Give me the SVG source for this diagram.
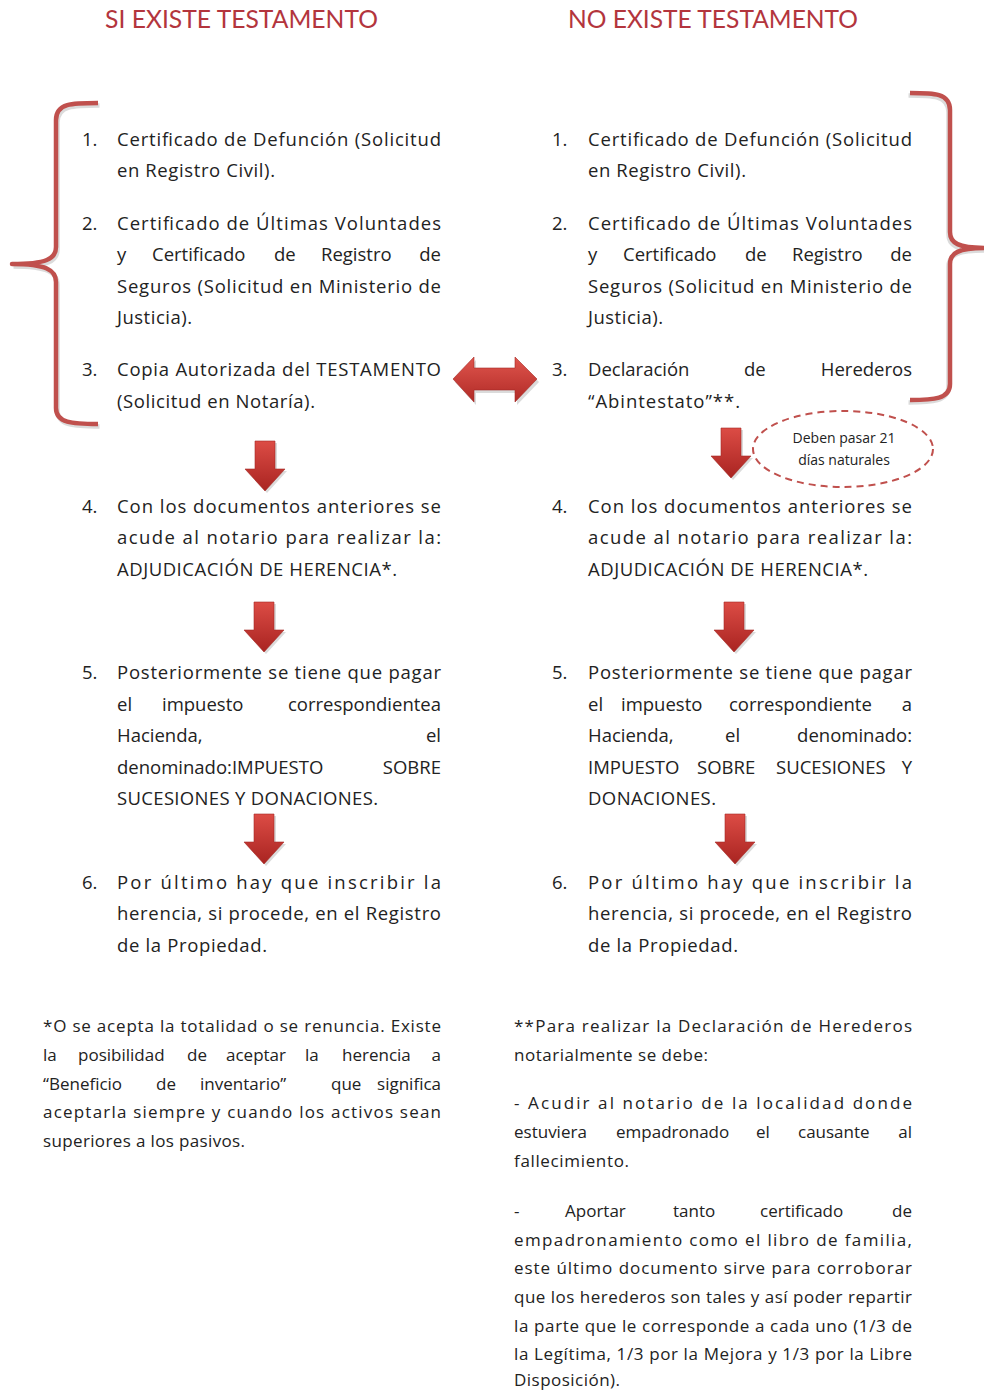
<svg xmlns="http://www.w3.org/2000/svg" width="984" height="1391" viewBox="0 0 984 1391">
<style>
.t{font-family:"Open Sans",Lato,"Liberation Sans",sans-serif;font-size:18.5px;fill:#222}
.f{font-family:"Open Sans",Lato,"Liberation Sans",sans-serif;font-size:17px;fill:#222}
.e{text-anchor:end}
.title{font-family:Lato,"Open Sans","Liberation Sans",sans-serif;font-size:25px;fill:#b3353d}
.brace{fill:none;stroke:#c0504d;stroke-width:4.5;stroke-linecap:butt;stroke-linejoin:round}
.bsh{fill:none;stroke:#999;stroke-width:4.5;opacity:0.35}
.arr{fill:url(#rg);stroke:#a52a25;stroke-width:0.6}
.ash{fill:#888;opacity:0.3}
</style>
<defs>
<linearGradient id="rg" x1="0" y1="0" x2="0" y2="1">
<stop offset="0" stop-color="#dc4c45"/>
<stop offset="1" stop-color="#a92421"/>
</linearGradient>
<linearGradient id="rgh" x1="0" y1="0" x2="0" y2="1">
<stop offset="0" stop-color="#e0554d"/>
<stop offset="1" stop-color="#b02a26"/>
</linearGradient>
<path id="down" d="M-10,0 H10 V28 H20 L0,50 L-20,28 H-10 Z"/>
</defs>
<rect width="984" height="1391" fill="#fff"/>

<g id="titles">
<text class="title" x="105" y="28" textLength="273" lengthAdjust="spacingAndGlyphs">SI EXISTE TESTAMENTO</text>
<text class="title" x="568" y="28" textLength="290" lengthAdjust="spacingAndGlyphs">NO EXISTE TESTAMENTO</text>
</g>

<g id="braces">
<path class="bsh" transform="translate(1.5,2.5)" d="M98,103 C72,103 56,103 56,120 L56,247 C56,259 46,264 12,264 C46,264 56,270 56,282 L56,408 C56,423 72,424 98,424"/>
<path class="brace" d="M98,103 C72,103 56,103 56,120 L56,247 C56,259 46,264 12,264 C46,264 56,270 56,282 L56,408 C56,423 72,424 98,424"/>
<path class="bsh" transform="translate(-1.5,2.5)" d="M910,93 C934,93 950,93 950,110 L950,232 C950,243 958,248 986,248 C958,248 950,253 950,264 L950,384 C950,399 934,400 910,400"/>
<path class="brace" d="M910,93 C934,93 950,93 950,110 L950,232 C950,243 958,248 986,248 C958,248 950,253 950,264 L950,384 C950,399 934,400 910,400"/>
</g>

<!-- LEFT COLUMN -->
<g id="left-item1">
<text class="t" x="82" y="146">1.</text>
<text class="t" x="117" y="146" textLength="324" lengthAdjust="spacing">Certificado de Defunción (Solicitud</text>
<text class="t" x="117" y="177" textLength="158" lengthAdjust="spacing">en Registro Civil).</text>
</g>
<g id="left-item2">
<text class="t" x="82" y="230">2.</text>
<text class="t" x="117" y="230" textLength="324" lengthAdjust="spacing">Certificado de Últimas Voluntades</text>
<text class="t" y="261"><tspan x="117">y</tspan><tspan x="152">Certificado</tspan><tspan x="274">de</tspan><tspan x="321">Registro</tspan></text>
<text class="t e" x="441" y="261">de</text>
<text class="t" x="117" y="293" textLength="324" lengthAdjust="spacing">Seguros (Solicitud en Ministerio de</text>
<text class="t" x="117" y="324" textLength="75" lengthAdjust="spacing">Justicia).</text>
</g>
<g id="left-item3">
<text class="t" x="82" y="376">3.</text>
<text class="t" x="117" y="376" textLength="324" lengthAdjust="spacing">Copia Autorizada del TESTAMENTO</text>
<text class="t" x="117" y="408" textLength="198" lengthAdjust="spacing">(Solicitud en Notaría).</text>
</g>
<g id="left-item4">
<text class="t" x="82" y="513">4.</text>
<text class="t" x="117" y="513" textLength="324" lengthAdjust="spacing">Con los documentos anteriores se</text>
<text class="t" x="117" y="544" textLength="324" lengthAdjust="spacing">acude al notario para realizar la:</text>
<text class="t" x="117" y="576" textLength="280" lengthAdjust="spacing">ADJUDICACIÓN DE HERENCIA*.</text>
</g>
<g id="left-item5">
<text class="t" x="82" y="679">5.</text>
<text class="t" x="117" y="679" textLength="324" lengthAdjust="spacing">Posteriormente se tiene que pagar</text>
<text class="t" y="711"><tspan x="117">el</tspan><tspan x="162">impuesto</tspan></text>
<text class="t e" x="441" y="711">correspondientea</text>
<text class="t" x="117" y="742">Hacienda,</text>
<text class="t e" x="441" y="742">el</text>
<text class="t" x="117" y="774">denominado:IMPUESTO</text>
<text class="t e" x="441" y="774">SOBRE</text>
<text class="t" x="117" y="805" textLength="261" lengthAdjust="spacing">SUCESIONES Y DONACIONES.</text>
</g>
<g id="left-item6">
<text class="t" x="82" y="889">6.</text>
<text class="t" x="117" y="889" textLength="324" lengthAdjust="spacing">Por último hay que inscribir la</text>
<text class="t" x="117" y="920" textLength="324" lengthAdjust="spacing">herencia, si procede, en el Registro</text>
<text class="t" x="117" y="952" textLength="150" lengthAdjust="spacing">de la Propiedad.</text>
</g>

<!-- RIGHT COLUMN -->
<g id="right-item1">
<text class="t" x="552" y="146">1.</text>
<text class="t" x="588" y="146" textLength="324" lengthAdjust="spacing">Certificado de Defunción (Solicitud</text>
<text class="t" x="588" y="177" textLength="158" lengthAdjust="spacing">en Registro Civil).</text>
</g>
<g id="right-item2">
<text class="t" x="552" y="230">2.</text>
<text class="t" x="588" y="230" textLength="324" lengthAdjust="spacing">Certificado de Últimas Voluntades</text>
<text class="t" y="261"><tspan x="588">y</tspan><tspan x="623">Certificado</tspan><tspan x="745">de</tspan><tspan x="792">Registro</tspan></text>
<text class="t e" x="912" y="261">de</text>
<text class="t" x="588" y="293" textLength="324" lengthAdjust="spacing">Seguros (Solicitud en Ministerio de</text>
<text class="t" x="588" y="324" textLength="75" lengthAdjust="spacing">Justicia).</text>
</g>
<g id="right-item3">
<text class="t" x="552" y="376">3.</text>
<text class="t" y="376"><tspan x="588">Declaración</tspan><tspan x="744">de</tspan></text>
<text class="t e" x="912" y="376">Herederos</text>
<text class="t" x="588" y="408" textLength="152" lengthAdjust="spacing">“Abintestato”**.</text>
</g>
<g id="note-21dias">
<ellipse cx="843" cy="449" rx="90" ry="38" fill="none" stroke="#c0504d" stroke-width="2" stroke-dasharray="7,5"/>
<text x="844" y="443" text-anchor="middle" font-family="'Open Sans',Lato,'Liberation Sans',sans-serif" font-size="14" fill="#222">Deben pasar 21</text>
<text x="844" y="465" text-anchor="middle" font-family="'Open Sans',Lato,'Liberation Sans',sans-serif" font-size="14" fill="#222">días naturales</text>
</g>
<g id="right-item4">
<text class="t" x="552" y="513">4.</text>
<text class="t" x="588" y="513" textLength="324" lengthAdjust="spacing">Con los documentos anteriores se</text>
<text class="t" x="588" y="544" textLength="324" lengthAdjust="spacing">acude al notario para realizar la:</text>
<text class="t" x="588" y="576" textLength="280" lengthAdjust="spacing">ADJUDICACIÓN DE HERENCIA*.</text>
</g>
<g id="right-item5">
<text class="t" x="552" y="679">5.</text>
<text class="t" x="588" y="679" textLength="324" lengthAdjust="spacing">Posteriormente se tiene que pagar</text>
<text class="t" y="711"><tspan x="588">el</tspan><tspan x="621">impuesto</tspan><tspan x="729">correspondiente</tspan></text>
<text class="t e" x="912" y="711">a</text>
<text class="t" y="742"><tspan x="588">Hacienda,</tspan><tspan x="725">el</tspan></text>
<text class="t e" x="912" y="742">denominado:</text>
<text class="t" y="774"><tspan x="588">IMPUESTO</tspan><tspan x="697">SOBRE</tspan><tspan x="776">SUCESIONES</tspan></text>
<text class="t e" x="912" y="774">Y</text>
<text class="t" x="588" y="805" textLength="128" lengthAdjust="spacing">DONACIONES.</text>
</g>
<g id="right-item6">
<text class="t" x="552" y="889">6.</text>
<text class="t" x="588" y="889" textLength="324" lengthAdjust="spacing">Por último hay que inscribir la</text>
<text class="t" x="588" y="920" textLength="324" lengthAdjust="spacing">herencia, si procede, en el Registro</text>
<text class="t" x="588" y="952" textLength="150" lengthAdjust="spacing">de la Propiedad.</text>
</g>

<g id="connectors">
<g transform="translate(265,441)"><use href="#down" class="ash" transform="translate(2,2)"/><use href="#down" class="arr"/></g>
<g transform="translate(264,602)"><use href="#down" class="ash" transform="translate(2,2)"/><use href="#down" class="arr"/></g>
<g transform="translate(264,814)"><use href="#down" class="ash" transform="translate(2,2)"/><use href="#down" class="arr"/></g>
<g transform="translate(731,428)"><use href="#down" class="ash" transform="translate(2,2)"/><use href="#down" class="arr"/></g>
<g transform="translate(734,602)"><use href="#down" class="ash" transform="translate(2,2)"/><use href="#down" class="arr"/></g>
<g transform="translate(735,814)"><use href="#down" class="ash" transform="translate(2,2)"/><use href="#down" class="arr"/></g>
<path class="ash" transform="translate(2,3)" d="M453,379 L474,357 V368 H515 V357 L537,379 L515,402 V390 H474 V402 Z"/>
<path d="M453,379 L474,357 V368 H515 V357 L537,379 L515,402 V390 H474 V402 Z" fill="url(#rgh)" stroke="#a52a25" stroke-width="0.6"/>
</g>

<g id="footnote-left">
<text class="f" x="43" y="1032" textLength="398" lengthAdjust="spacing">*O se acepta la totalidad o se renuncia. Existe</text>
<text class="f" y="1061"><tspan x="43">la</tspan><tspan x="78">posibilidad</tspan><tspan x="187">de</tspan><tspan x="226">aceptar</tspan><tspan x="305">la</tspan><tspan x="342">herencia</tspan></text>
<text class="f e" x="441" y="1061">a</text>
<text class="f" y="1090"><tspan x="43">“Beneficio</tspan><tspan x="156">de</tspan><tspan x="200">inventario”</tspan><tspan x="331">que</tspan></text>
<text class="f e" x="441" y="1090">significa</text>
<text class="f" x="43" y="1118" textLength="398" lengthAdjust="spacing">aceptarla siempre y cuando los activos sean</text>
<text class="f" x="43" y="1147" textLength="202" lengthAdjust="spacing">superiores a los pasivos.</text>
</g>

<g id="footnote-right">
<text class="f" x="514" y="1032" textLength="398" lengthAdjust="spacing">**Para realizar la Declaración de Herederos</text>
<text class="f" x="514" y="1061" textLength="194" lengthAdjust="spacing">notarialmente se debe:</text>
<text class="f" x="514" y="1109" textLength="398" lengthAdjust="spacing">- Acudir al notario de la localidad donde</text>
<text class="f" y="1138"><tspan x="514">estuviera</tspan><tspan x="616">empadronado</tspan><tspan x="756">el</tspan><tspan x="798">causante</tspan></text>
<text class="f e" x="912" y="1138">al</text>
<text class="f" x="514" y="1167" textLength="115" lengthAdjust="spacing">fallecimiento.</text>
<text class="f" y="1217"><tspan x="514">-</tspan><tspan x="565">Aportar</tspan><tspan x="673">tanto</tspan><tspan x="760">certificado</tspan></text>
<text class="f e" x="912" y="1217">de</text>
<text class="f" x="514" y="1246" textLength="398" lengthAdjust="spacing">empadronamiento como el libro de familia,</text>
<text class="f" x="514" y="1274" textLength="398" lengthAdjust="spacing">este último documento sirve para corroborar</text>
<text class="f" x="514" y="1303" textLength="398" lengthAdjust="spacing">que los herederos son tales y así poder repartir</text>
<text class="f" x="514" y="1332" textLength="398" lengthAdjust="spacing">la parte que le corresponde a cada uno (1/3 de</text>
<text class="f" x="514" y="1360" textLength="398" lengthAdjust="spacing">la Legítima, 1/3 por la Mejora y 1/3 por la Libre</text>
<text class="f" x="514" y="1386" textLength="106" lengthAdjust="spacing">Disposición).</text>
</g>
</svg>
